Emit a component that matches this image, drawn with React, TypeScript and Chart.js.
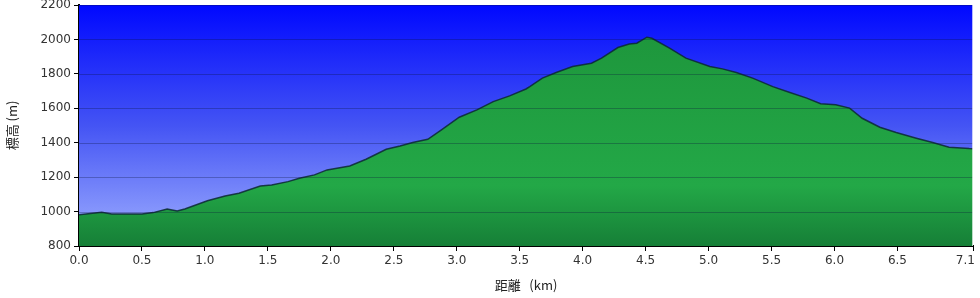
import React, { useEffect, useRef } from "react";
import { Chart, registerables } from "chart.js";

Chart.register(...registerables);

const distances = [0, 0.18, 0.26, 0.5, 0.59, 0.7, 0.78, 0.84, 1.02, 1.16, 1.27, 1.44, 1.53, 1.66, 1.75, 1.87, 1.97, 2.15, 2.28, 2.44, 2.55, 2.65, 2.77, 2.87, 3.02, 3.16, 3.29, 3.42, 3.55, 3.58, 3.68, 3.79, 3.92, 4.07, 4.15, 4.28, 4.37, 4.43, 4.51, 4.55, 4.69, 4.82, 5.01, 5.11, 5.22, 5.35, 5.51, 5.64, 5.78, 5.89, 6.01, 6.12, 6.22, 6.36, 6.49, 6.65, 6.78, 6.91, 7.07, 7.1];
const elevations = [982, 996, 986, 986, 994, 1015, 1003, 1015, 1063, 1091, 1106, 1149, 1155, 1174, 1193, 1213, 1242, 1265, 1304, 1362, 1381, 1401, 1420, 1470, 1548, 1591, 1639, 1672, 1712, 1726, 1775, 1808, 1843, 1862, 1891, 1953, 1973, 1978, 2013, 2007, 1949, 1891, 1843, 1829, 1808, 1775, 1726, 1693, 1659, 1626, 1620, 1601, 1542, 1490, 1459, 1426, 1401, 1374, 1366, 1365];
const xTicks = [0, 0.5, 1, 1.5, 2, 2.5, 3, 3.5, 4, 4.5, 5, 5.5, 6, 6.5, 7.1];
const yTicks = [800, 1000, 1200, 1400, 1600, 1800, 2000, 2200];
const xTitle = "距離   (km)";
const yTitle = "標高 (m)";

export default function App() {
  const ref = useRef<HTMLCanvasElement | null>(null);
  useEffect(() => {
    document.body.style.margin = "0";
    const canvas = ref.current!;
    const bgPlugin = {
      id: "bg",
      beforeDatasetsDraw(chart: any) {
        const { ctx, chartArea: a } = chart;
        const g = ctx.createLinearGradient(0, a.top, 0, a.bottom);
        g.addColorStop(0, "#0008ff");
        g.addColorStop(0.5, "#4454f4");
        g.addColorStop(1, "#a0b0ff");
        ctx.save();
        ctx.fillStyle = g;
        ctx.fillRect(a.left, a.top, a.right - a.left, a.bottom - a.top);
        ctx.restore();
      },
      afterDatasetsDraw(chart: any) {
        const { ctx, chartArea: a, scales } = chart;
        ctx.save();
        ctx.strokeStyle = "rgba(10,20,60,0.3)";
        ctx.lineWidth = 1;
        yTicks.forEach((v) => {
          const y = Math.round(scales.y.getPixelForValue(v)) + 0.5;
          if (v === 800) return;
          ctx.beginPath();
          ctx.moveTo(a.left, y);
          ctx.lineTo(a.right, y);
          ctx.stroke();
        });
        ctx.strokeStyle = "rgba(255,255,255,0.7)";
        ctx.beginPath();
        ctx.moveTo(a.right - 0.5, a.top);
        ctx.lineTo(a.right - 0.5, a.bottom);
        ctx.stroke();
        ctx.restore();
      },
    };
    const chart = new Chart(canvas, {
      type: "line",
      data: {
        datasets: [
          {
            data: distances.map((d, i) => ({ x: d, y: elevations[i] })),
            borderColor: "rgba(12,40,50,0.85)",
            borderWidth: 1.5,
            pointRadius: 0,
            fill: "start",
            backgroundColor: (c: any) => {
              const a = c.chart.chartArea;
              if (!a) return "#1f9a40";
              const g = c.chart.ctx.createLinearGradient(0, a.top, 0, a.bottom);
              g.addColorStop(0, "#1d933a");
              g.addColorStop(0.75, "#23a847");
              g.addColorStop(1, "#167f37");
              return g;
            },
            tension: 0,
          },
        ],
      },
      plugins: [bgPlugin],
      options: {
        responsive: false,
        animation: false,
        layout: { padding: { left: 0, right: 7, top: 5, bottom: 0 } },
        plugins: { legend: { display: false }, tooltip: { enabled: false } },
        scales: {
          x: {
            type: "linear",
            min: 0,
            max: 7.1,
            afterBuildTicks: (s: any) => {
              s.ticks = xTicks.map((v) => ({ value: v }));
            },
            afterFit: (s: any) => {
              s.height = 52;
              s.paddingLeft = 0;
              s.paddingRight = 0;
            },
            ticks: {
              autoSkip: false,
              maxRotation: 0,
              padding: 3,
              color: "#333",
              font: { family: "DejaVu Sans", size: 12 },
              callback: (v: any) => (v === 7.1 ? "7.1    " : Number(v).toFixed(1)),
            },
            grid: { drawOnChartArea: false, tickLength: 5, color: "#000", lineWidth: 1 },
            border: { color: "#000", width: 2 },
            title: {
              display: true,
              text: xTitle,
              color: "#222",
              font: { family: "Noto Sans CJK JP", size: 13 },
              padding: { top: 0, bottom: 5 },
            },
          },
          y: {
            type: "linear",
            min: 800,
            max: 2200,
            afterBuildTicks: (s: any) => {
              s.ticks = yTicks.map((v) => ({ value: v }));
            },
            afterFit: (s: any) => {
              s.width = 79;
              s.paddingTop = 0;
              s.paddingBottom = 0;
            },
            ticks: {
              padding: 3,
              color: "#333",
              font: { family: "DejaVu Sans", size: 12 },
              callback: (v: any) => String(v),
            },
            grid: { drawOnChartArea: false, tickLength: 5, color: "#000", lineWidth: 1 },
            border: { color: "#000", width: 2 },
            title: {
              display: true,
              text: yTitle,
              color: "#222",
              font: { family: "Noto Sans CJK JP", size: 13 },
              padding: { top: 4, bottom: 4 },
            },
          },
        },
      },
    } as any);
    return () => chart.destroy();
  }, []);
  return <canvas ref={ref} width={980} height={298} style={{ display: "block" }} />;
}
